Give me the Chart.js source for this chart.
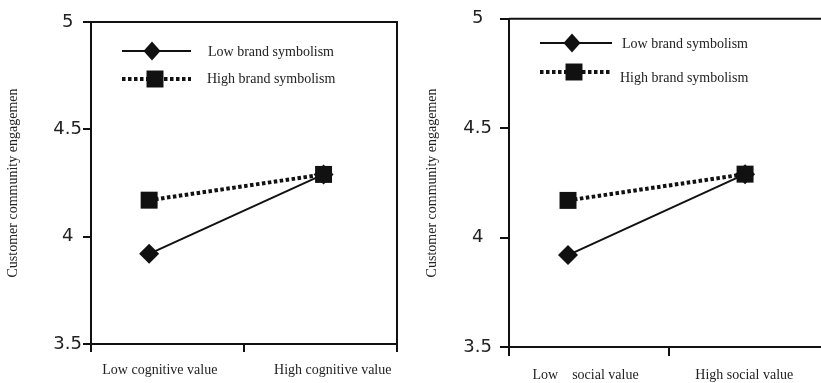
<!DOCTYPE html>
<html>
<head>
<meta charset="utf-8">
<script src="https://cdn.jsdelivr.net/npm/chart.js@4/dist/chart.umd.min.js"></script>
<style>
  html, body { margin: 0; padding: 0; background: #fff; overflow: hidden; }
  body { width: 821px; height: 383px; position: relative; }
  .panel { position: absolute; top: 0; }
</style>
</head>
<body>
<div class="panel" style="left:0"><canvas id="chartCognitive" width="410" height="383"></canvas></div>
<div class="panel" style="left:410px"><canvas id="chartSocial" width="430" height="383"></canvas></div>
<script>
// Valeurs
const cognitiveLevels = ['Low cognitive value', 'High cognitive value'];
const socialLevels = ['Low    social value', 'High social value'];
const groupNames = ['Low brand symbolism', 'High brand symbolism'];
const cognitiveX = [0.38, 1.52];
const socialX = [0.37, 1.48];
const lowSymCognitive = [3.92, 4.29];
const highSymCognitive = [4.17, 4.29];
const lowSymSocial = [3.92, 4.29];
const highSymSocial = [4.17, 4.29];
const yTicks = [3.5, 4, 4.5, 5];
const yTitle = 'Customer community engagemen';

const ink = '#111';
const serif = "'Liberation Serif', 'Times New Roman', serif";

// Cadre haut + droite
const framePlugin = {
    id: 'frame',
    beforeDatasetsDraw(chart) {
        const { ctx, chartArea: a } = chart;
        ctx.save();
        ctx.strokeStyle = ink;
        ctx.lineWidth = 2;
        ctx.beginPath();
        ctx.moveTo(a.left, a.top);
        ctx.lineTo(a.right, a.top);
        ctx.lineTo(a.right, a.bottom);
        ctx.stroke();
        ctx.restore();
    }
};

// Légende dans le graphique : trait + marqueur au milieu
const legendPlugin = {
    id: 'innerLegend',
    afterDatasetsDraw(chart, args, opts) {
        const { ctx } = chart;
        ctx.save();
        opts.rows.forEach((row, i) => {
            const ds = chart.data.datasets[i];
            ctx.strokeStyle = ds.borderColor;
            ctx.lineWidth = ds.borderWidth;
            ctx.setLineDash(ds.borderDash || []);
            ctx.beginPath();
            ctx.moveTo(opts.x0, row.y);
            ctx.lineTo(opts.x1, row.y);
            ctx.stroke();
            ctx.setLineDash([]);
            ctx.fillStyle = ds.pointBackgroundColor;
            if (ds.pointStyle === 'rectRot') {
                const r = ds.pointRadius;
                ctx.beginPath();
                ctx.moveTo(row.mx, row.y - r * 0.95);
                ctx.lineTo(row.mx + r * 0.85, row.y);
                ctx.lineTo(row.mx, row.y + r * 0.95);
                ctx.lineTo(row.mx - r * 0.85, row.y);
                ctx.closePath();
                ctx.fill();
            } else {
                const h = ds.pointRadius * Math.SQRT1_2;
                ctx.fillRect(row.mx - h, row.y - h, 2 * h, 2 * h);
            }
            ctx.fillStyle = '#222';
            ctx.font = '14px ' + serif;
            ctx.textBaseline = 'middle';
            ctx.textAlign = 'left';
            ctx.fillText(ds.label, row.tx, row.ty);
        });
        ctx.restore();
    }
};

function makeChart(id, levels, xs, lowVals, highVals, lay) {
    const ctx = document.getElementById(id).getContext('2d');
    return new Chart(ctx, {
        type: 'line',
        data: {
            datasets: [
                {
                    label: groupNames[0],
                    data: xs.map((x, i) => ({ x: x, y: lowVals[i] })),
                    borderColor: ink,
                    borderWidth: 2,
                    pointStyle: 'rectRot',
                    pointRadius: 10,
                    pointBackgroundColor: ink,
                    pointBorderWidth: 0,
                    order: 1,
                    clip: false
                },
                {
                    label: groupNames[1],
                    data: xs.map((x, i) => ({ x: x, y: highVals[i] })),
                    borderColor: ink,
                    borderWidth: 4,
                    borderDash: [3.5, 2.5],
                    pointStyle: 'rect',
                    pointRadius: 12,
                    pointBackgroundColor: ink,
                    pointBorderWidth: 0,
                    order: 0,
                    clip: false
                }
            ]
        },
        options: {
            responsive: false,
            animation: false,
            devicePixelRatio: 1,
            layout: { padding: { left: 0, top: lay.top, right: lay.right, bottom: 0 } },
            plugins: {
                legend: { display: false },
                tooltip: { enabled: false },
                innerLegend: lay.legend
            },
            scales: {
                x: {
                    type: 'linear',
                    min: 0,
                    max: 2,
                    ticks: { display: false, stepSize: 1 },
                    grid: { drawOnChartArea: false, tickLength: lay.tick, color: ink, lineWidth: 2 },
                    border: { color: ink, width: 2 },
                    afterFit: s => { s.height = lay.tick; }
                },
                xl: {
                    type: 'linear',
                    position: 'bottom',
                    min: 0,
                    max: 2,
                    afterBuildTicks: s => { s.ticks = lay.labelAt.map(v => ({ value: v })); },
                    ticks: {
                        callback: (v, i) => levels[i],
                        autoSkip: false,
                        maxRotation: 0,
                        padding: lay.labelPad,
                        color: '#222',
                        font: { family: serif, size: 14 }
                    },
                    grid: { display: false, drawTicks: false },
                    border: { display: false },
                    afterFit: s => { s.height = 383 - lay.bottom - lay.tick; }
                },
                y: {
                    type: 'linear',
                    min: 3.5,
                    max: 5,
                    afterBuildTicks: s => { s.ticks = yTicks.map(v => ({ value: v })); },
                    ticks: {
                        callback: v => String(v),
                        crossAlign: 'center',
                        padding: lay.yPad,
                        color: '#222',
                        font: { family: "'DejaVu Sans', sans-serif", size: 18 }
                    },
                    grid: { drawOnChartArea: false, tickLength: lay.tick, color: ink, lineWidth: 2 },
                    border: { color: ink, width: 2 },
                    title: {
                        display: true,
                        text: yTitle,
                        color: '#222',
                        font: { family: serif, size: 14 },
                        padding: { top: lay.titlePad, bottom: 0 }
                    },
                    afterFit: s => { s.width = lay.yw; }
                }
            }
        },
        plugins: [framePlugin, legendPlugin]
    });
}

makeChart('chartCognitive', cognitiveLevels, cognitiveX, lowSymCognitive, highSymCognitive, {
    top: 22, right: 13, bottom: 344, tick: 8, yw: 91, yPad: 1, titlePad: 5, labelPad: 10,
    labelAt: [0.45, 1.58],
    legend: { x0: 122, x1: 191, rows: [
        { y: 51, mx: 152, tx: 208, ty: 52 },
        { y: 79, mx: 155, tx: 207, ty: 79 }
    ] }
});

makeChart('chartSocial', socialLevels, socialX, lowSymSocial, highSymSocial, {
    top: 15, right: 7, bottom: 347, tick: 9, yw: 99, yPad: 8, titlePad: 14, labelPad: 11,
    labelAt: [0.48, 1.475],
    legend: { x0: 130, x1: 202, rows: [
        { y: 43, mx: 162, tx: 212, ty: 44 },
        { y: 72, mx: 164, tx: 210, ty: 78 }
    ] }
});
</script>
</body>
</html>
